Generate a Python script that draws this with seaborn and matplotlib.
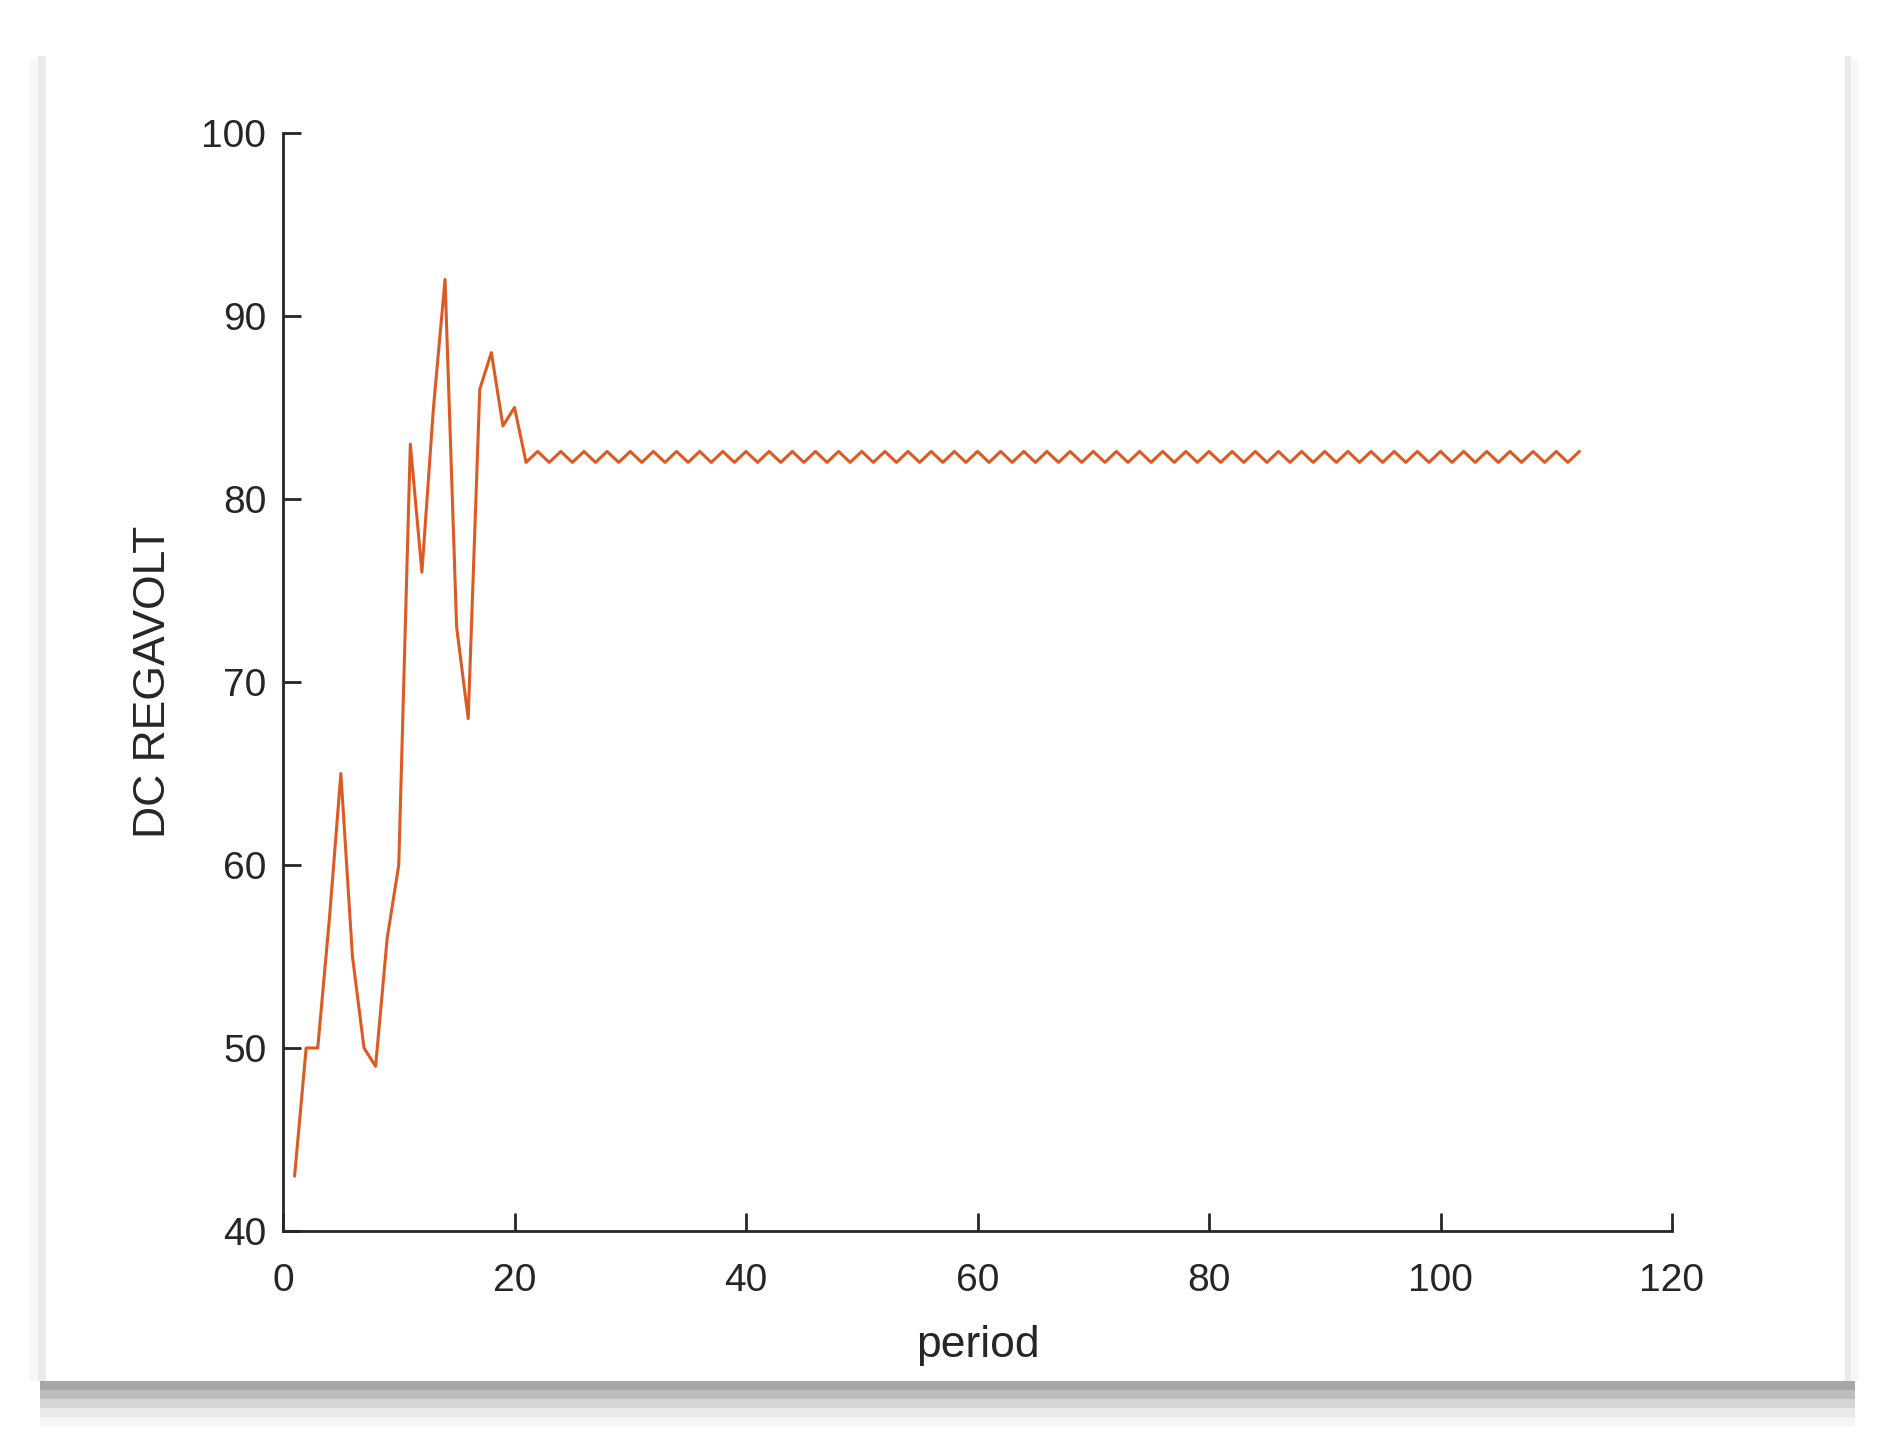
import numpy as np
import matplotlib
matplotlib.use("Agg")
import matplotlib.pyplot as plt
import seaborn as sns
from matplotlib.patches import Rectangle

# DC regulator voltage per period
volt = [43, 50, 50, 57, 65, 55, 50, 49, 56, 60,
        83, 76, 85, 92, 73, 68, 86, 88, 84, 85,
        82.0, 82.6, 82.0, 82.6, 82.0, 82.6, 82.0, 82.6, 82.0, 82.6,
        82.0, 82.6, 82.0, 82.6, 82.0, 82.6, 82.0, 82.6, 82.0, 82.6,
        82.0, 82.6, 82.0, 82.6, 82.0, 82.6, 82.0, 82.6, 82.0, 82.6,
        82.0, 82.6, 82.0, 82.6, 82.0, 82.6, 82.0, 82.6, 82.0, 82.6,
        82.0, 82.6, 82.0, 82.6, 82.0, 82.6, 82.0, 82.6, 82.0, 82.6,
        82.0, 82.6, 82.0, 82.6, 82.0, 82.6, 82.0, 82.6, 82.0, 82.6,
        82.0, 82.6, 82.0, 82.6, 82.0, 82.6, 82.0, 82.6, 82.0, 82.6,
        82.0, 82.6, 82.0, 82.6, 82.0, 82.6, 82.0, 82.6, 82.0, 82.6,
        82.0, 82.6, 82.0, 82.6, 82.0, 82.6, 82.0, 82.6, 82.0, 82.6,
        82.0, 82.6]
period = np.arange(1, len(volt) + 1)

x_ticks = [0, 20, 40, 60, 80, 100, 120]
y_ticks = [40, 50, 60, 70, 80, 90, 100]

sns.set_theme(style="ticks")
plt.rcParams['font.family'] = ['Liberation Sans', 'DejaVu Sans']

W, H = 1887, 1440
fig = plt.figure(figsize=(W / 100, H / 100), dpi=100)
fig.patch.set_facecolor('white')


def px_rect(x0, y0, x1, y1, color, z=0):
    fig.patches.append(Rectangle((x0 / W, 1 - y1 / H), (x1 - x0) / W, (y1 - y0) / H,
                                 transform=fig.transFigure, facecolor=color,
                                 edgecolor='none', zorder=z))


# card with drop shadow
px_rect(30, 60, 1858, 1381, '#f7f7f7', z=-5)
px_rect(38, 56, 1851, 1381, '#ebebeb', z=-4)
for y0, y1, col in [(1381, 1390, '#a6a6a6'), (1390, 1399, '#bdbdbd'),
                    (1399, 1408, '#d6d6d6'), (1408, 1417, '#e9e9e9'),
                    (1417, 1426, '#f5f5f5')]:
    px_rect(40, y0, 1855, y1, col, z=-4)
px_rect(46, 54, 1845, 1381, 'white', z=-3)

ax = fig.add_axes([283 / W, 1 - 1231 / H, (1672 - 283) / W, (1231 - 133) / H])
ax.set_facecolor('none')

sns.lineplot(x=period, y=volt, ax=ax, color='#dd5a22', linewidth=2.2)

ax.set_xlim(0, 120)
ax.set_ylim(40, 100)
ax.set_xticks(x_ticks)
ax.set_yticks(y_ticks)
ax.tick_params(direction='in', length=13, width=2, colors='#262626',
               labelsize=28, pad=12)
ax.tick_params(axis='x', pad=23)
for side in ['left', 'bottom']:
    ax.spines[side].set_linewidth(2)
    ax.spines[side].set_color('#262626')
sns.despine(ax=ax)

ax.set_xlabel('period', fontsize=32, color='#262626', labelpad=19)
ax.set_ylabel('DC REGAVOLT', fontsize=32, color='#262626', labelpad=20)

fig.savefig('out.png', dpi=100)
